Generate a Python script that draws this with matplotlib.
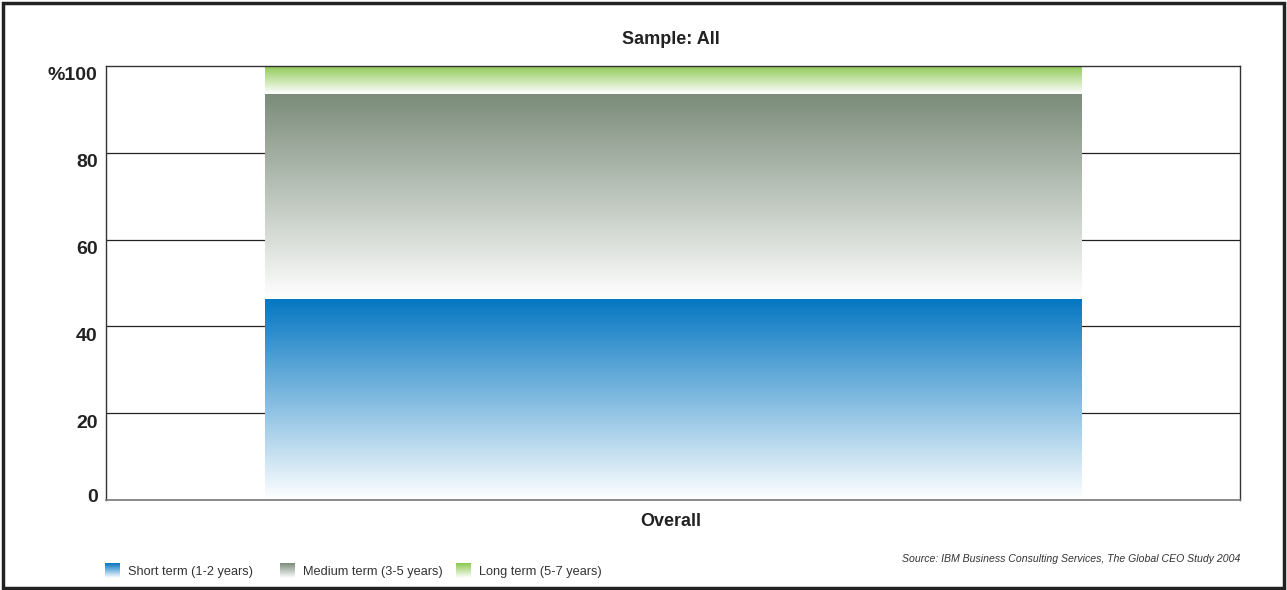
import matplotlib.pyplot as plt
import matplotlib.transforms as mtransforms
import numpy as np
from matplotlib.colors import LinearSegmentedColormap
from matplotlib.patches import Rectangle

categories = ['Overall']
series_names = ['Short term (1-2 years)', 'Medium term (3-5 years)', 'Long term (5-7 years)']
short_term = [46.3]
medium_term = [47.2]
long_term = [6.5]
top_colors = ['#0577c2', '#7b8c7a', '#8cc850']
yticks = [0, 20, 40, 60, 80, 100]
ytick_labels = ['0', '20', '40', '60', '80', '%100']

FONT = ['Liberation Sans Narrow', 'Liberation Sans', 'DejaVu Sans']
plt.rcParams['font.family'] = FONT

W, H = 1287, 590
fig = plt.figure(figsize=(W / 100, H / 100), dpi=100)
ax = fig.add_axes([106 / W, 1 - 500 / H, (1240 - 106) / W, (500 - 66) / H])

x = np.arange(len(categories))
width = 0.72
bottom = np.zeros(len(categories))
for vals, col in zip([short_term, medium_term, long_term], top_colors):
    bars = ax.bar(x, vals, width, bottom=bottom, color='none', edgecolor='none', zorder=2)
    cmap = LinearSegmentedColormap.from_list('g', ['#ffffff', col])
    grad = np.linspace(0, 1, 256).reshape(-1, 1)
    for b in bars:
        x0, y0 = b.get_x(), b.get_y()
        im = ax.imshow(grad, cmap=cmap, origin='lower', aspect='auto',
                       extent=[x0, x0 + b.get_width(), y0, y0 + b.get_height()], zorder=2)
        im.set_clip_path(b)
    bottom += np.array(vals)

ax.set_xlim(-0.5, 0.5)
ax.set_ylim(0, 100)
ax.set_yticks(yticks)
ax.set_yticklabels(ytick_labels, fontsize=14, fontweight='bold', color='#222222')
ax.tick_params(axis='y', length=0, pad=6)
ax.set_xticks([])
# labels sit a little below their gridlines in the original, except the 0
for lab, t in zip(ax.get_yticklabels(), yticks):
    dy = 4 if t == 0 else -8
    lab.set_transform(lab.get_transform() + mtransforms.ScaledTranslation(0, dy / 100, fig.dpi_scale_trans))
for y in yticks[1:-1]:
    ax.axhline(y, color='#222222', lw=0.9, zorder=1)
for s in ['left', 'top', 'right']:
    ax.spines[s].set_color('#333333')
    ax.spines[s].set_linewidth(1.0)
ax.spines['bottom'].set_color('#777777')
ax.spines['bottom'].set_linewidth(1.2)

fig.text(671 / W, 1 - 39 / H, 'Sample: All', ha='center', va='center',
         fontsize=13, fontweight='bold', color='#222222')
fig.text(671 / W, 1 - 522 / H, categories[0], ha='center', va='center',
         fontsize=13, fontweight='bold', color='#222222')

# legend with gradient swatches
leg_x = [105, 280, 456]
for lx, name, col in zip(leg_x, series_names, top_colors):
    sax = fig.add_axes([lx / W, 1 - 578 / H, 15 / W, 15 / H])
    cmap = LinearSegmentedColormap.from_list('g', ['#ffffff', col])
    sax.imshow(np.linspace(0, 1, 64).reshape(-1, 1), cmap=cmap, origin='lower', aspect='auto')
    sax.axis('off')
    fig.text((lx + 23) / W, 1 - 572 / H, name, ha='left', va='center',
             fontsize=9.2, color='#333333')

fig.text(1240 / W, 1 - 559 / H, 'Source: IBM Business Consulting Services, The Global CEO Study 2004',
         ha='right', va='center', fontsize=7.6, style='italic', color='#333333')

fig.patches.append(Rectangle((3 / W, 2 / H), (W - 6) / W, (H - 5) / H, transform=fig.transFigure,
                             fill=False, edgecolor='#222222', lw=2.5))

fig.savefig('out.png', dpi=100)
